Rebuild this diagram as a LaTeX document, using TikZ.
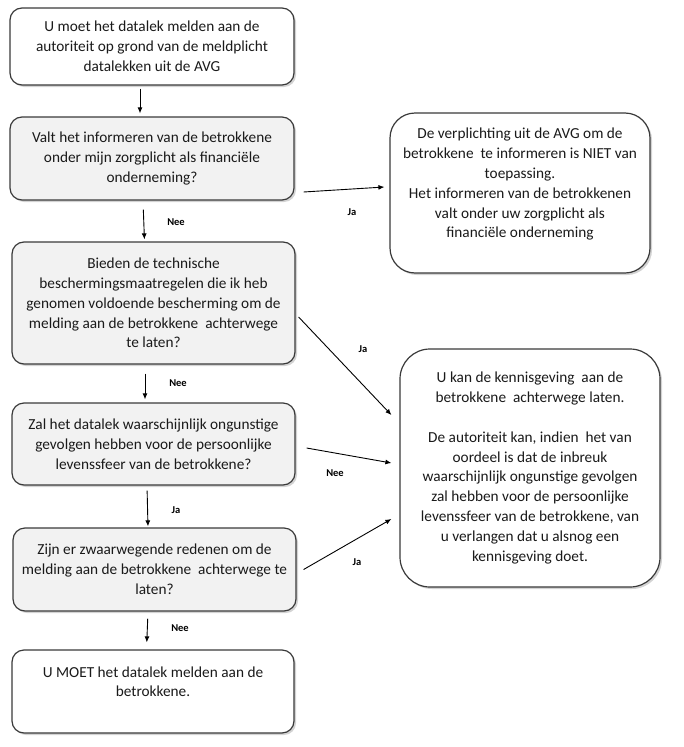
\documentclass[tikz,border=0pt]{standalone}
\usepackage{fontspec}
\setmainfont{Carlito}
\usetikzlibrary{shadows,arrows.meta}
\definecolor{boxgray}{HTML}{F2F2F2}
\definecolor{edgegray}{HTML}{3A3A3A}
\definecolor{txt}{HTML}{1A1A1A}
\tikzset{
  box/.style={draw=edgegray, line width=1.2pt, rounded corners=12pt, fill=white,
    align=center, font=\fontsize{15.3}{19.8}\selectfont, text=txt, inner sep=3pt,
    drop shadow={shadow xshift=2pt, shadow yshift=-2pt, opacity=0.35}},
  qbox/.style={box, fill=boxgray},
  arr/.style={-{Latex[length=6pt,width=5pt]}, line width=0.9pt, black},
  lab/.style={font=\fontsize{10.5}{11}\selectfont\bfseries, inner sep=1pt}
}
\begin{document}
\begin{tikzpicture}[x=1pt,y=-1pt]
\useasboundingbox (0,0) rectangle (683,747);
\node[box, minimum width=284pt, minimum height=77pt] (b1) at (152,46.5)
  {U moet het datalek melden aan de\\autoriteit op grond van de meldplicht\\datalekken uit de AVG};
\node[qbox, minimum width=284pt, minimum height=83pt] (b2) at (152,158.5)
  {Valt het informeren van de betrokkene\\onder mijn zorgplicht als financiële\\onderneming?};
\node[qbox, minimum width=283pt, minimum height=122pt] (b3) at (153.5,303)
  {Bieden de technische\\beschermingsmaatregelen die ik heb\\genomen voldoende bescherming om de\\melding aan de betrokkene\ \ achterwege\\te laten?};
\node[qbox, minimum width=283pt, minimum height=82pt] (b4) at (153.5,444)
  {Zal het datalek waarschijnlijk ongunstige\\gevolgen hebben voor de persoonlijke\\levenssfeer van de betrokkene?};
\node[qbox, minimum width=283pt, minimum height=83pt] (b5) at (154.5,569.5)
  {Zijn er zwaarwegende redenen om de\\melding aan de betrokkene\ \ achterwege te\\laten?};
\node[box, minimum width=282pt, minimum height=83pt] (b6) at (153,691.5)
  {U MOET het datalek melden aan de\\betrokkene.\\~};
\node[box, rounded corners=25pt, minimum width=260pt, minimum height=160pt] (ra) at (520,193)
  {De verplichting uit de AVG om de\\betrokkene\ \ te informeren is NIET van\\toepassing.\\Het informeren van de betrokkenen\\valt onder uw zorgplicht als\\financiële onderneming\\~};
\node[box, rounded corners=30pt, minimum width=260pt, minimum height=238pt] (rb) at (530,468)
  {U kan de kennisgeving\ \ aan de\\betrokkene\ \ achterwege laten.\\~\\De autoriteit kan, indien\ \ het van\\oordeel is dat de inbreuk\\waarschijnlijk ongunstige gevolgen\\zal hebben voor de persoonlijke\\levenssfeer van de betrokkene, van\\u verlangen dat u alsnog een\\kennisgeving doet.};
% vertical arrows
\draw[arr, shorten <=3pt, shorten >=3pt] ([xshift=-12pt]b1.south) -- ([xshift=-12pt]b2.north);
\draw[arr, shorten <=9pt, shorten >=2pt] ([xshift=-9pt]b2.south) -- ([xshift=-9pt]b3.north);
\draw[arr, shorten <=9pt, shorten >=3pt] ([xshift=-8.5pt]b3.south) -- ([xshift=-8.5pt]b4.north);
\draw[arr, shorten <=5pt, shorten >=1pt] ([xshift=-6.5pt]b4.south) -- ([xshift=-6.5pt]b5.north);
\draw[arr, shorten <=7pt, shorten >=7pt] ([xshift=-6.5pt]b5.south) -- ([xshift=-6.5pt]b6.north);
% diagonal arrows
\draw[arr] ([xshift=9pt,yshift=-33.5pt]b2.east) -- ([xshift=-5pt,yshift=6pt]ra.west);
\draw[arr] ([xshift=3pt,yshift=-14pt]b3.east) -- ([xshift=-8pt,yshift=53pt]rb.west);
\draw[arr] ([xshift=11pt,yshift=-4pt]b4.east) -- ([xshift=-8pt,yshift=5pt]rb.west);
\draw[arr] ([xshift=7pt]b5.east) -- ([xshift=-8pt,yshift=-51pt]rb.west);
% labels
\node[lab] (l1) at (352,212) {Ja};
\node[lab] (l2) at (176,222) {Nee};
\node[lab] (l3) at (363,349) {Ja};
\node[lab] (l4) at (178,383) {Nee};
\node[lab] (l5) at (335,473) {Nee};
\node[lab] (l6) at (176,510) {Ja};
\node[lab] (l7) at (357,562) {Ja};
\node[lab] (l8) at (180,628) {Nee};
\end{tikzpicture}
\end{document}
